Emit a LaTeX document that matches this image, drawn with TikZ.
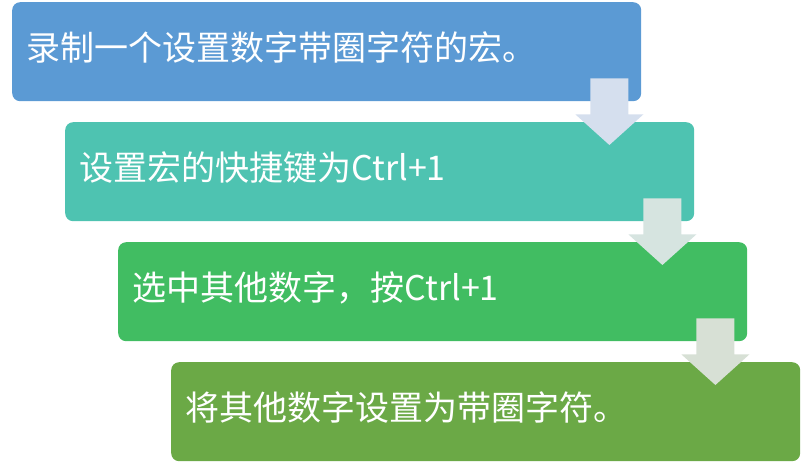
\documentclass[tikz,border=0pt]{standalone}
\usepackage{fontspec}
\setmainfont{Noto Sans CJK SC}
\usetikzlibrary{calc}
\definecolor{cA}{HTML}{5B9AD4}
\definecolor{cB}{HTML}{4EC3B1}
\definecolor{cC}{HTML}{41BD62}
\definecolor{cD}{HTML}{6BA946}
\definecolor{aA}{HTML}{D5DFEE}
\definecolor{aB}{HTML}{D6E4E0}
\definecolor{aC}{HTML}{D7E0D5}
\tikzset{
  stepbox/.style={anchor=north west, rounded corners=8pt, draw=none, text=white,
    minimum height=99pt, text width=600pt, inner xsep=14.5pt, inner ysep=0pt,
    text height=26pt, text depth=8pt,
    align=left, font=\fontsize{34}{36}\selectfont},
}
\newcommand\flowarrow[3]{% from node, to node, colour
  \fill[#3] let \p1=($(#1.south east)+(-32,-23)$), \p2=($(#2.north)+(0,23)$) in
    (\x1-19pt,\y1) -- (\x1+19pt,\y1) -- (\x1+19pt,\y1-36pt) -- (\x1+34pt,\y1-36pt)
    -- (\x1,\y2) -- (\x1-34pt,\y1-36pt) -- (\x1-19pt,\y1-36pt) -- cycle;}
\begin{document}
\begin{tikzpicture}[x=1pt,y=-1pt]
\useasboundingbox (0,0) rectangle (801,464);
\node[stepbox, fill=cA] (b1) at (12,2) {录制一个设置数字带圈字符的宏。};
\node[stepbox, fill=cB] (b2) at (65,122) {设置宏的快捷键为Ctrl+1};
\node[stepbox, fill=cC] (b3) at (118,242) {选中其他数字，按Ctrl+1};
\node[stepbox, fill=cD] (b4) at (171,362) {将其他数字设置为带圈字符。};
\flowarrow{b1}{b2}{aA}
\flowarrow{b2}{b3}{aB}
\flowarrow{b3}{b4}{aC}
\end{tikzpicture}
\end{document}
